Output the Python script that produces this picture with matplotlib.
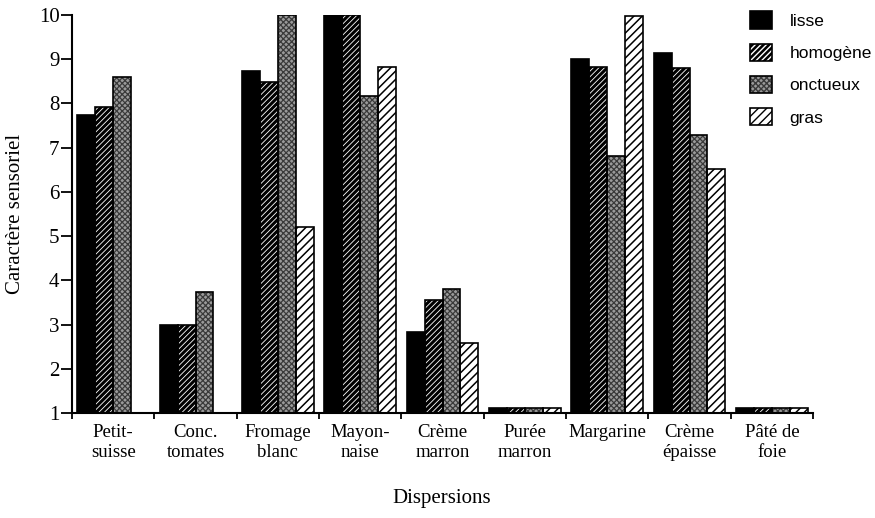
import numpy as np
import matplotlib
matplotlib.use("Agg")
import matplotlib.pyplot as plt
from matplotlib.patches import Patch
from matplotlib.legend_handler import HandlerTuple

categories = ["Petit-\nsuisse", "Conc.\ntomates", "Fromage\nblanc", "Mayon-\nnaise",
              "Crème\nmarron", "Purée\nmarron", "Margarine", "Crème\népaisse", "Pâté de\nfoie"]
series_names = ["lisse", "homogène", "onctueux", "gras"]
lisse    = [7.73, 2.99, 8.73, 10.0, 2.83, 1.12, 9.00, 9.15, 1.12]
homogene = [7.91, 2.99, 8.49, 10.0, 3.56, 1.12, 8.82, 8.80, 1.12]
onctueux = [8.60, 3.73, 10.0, 8.18, 3.80, 1.12, 6.82, 7.28, 1.12]
gras     = [1.00, 1.00, 5.21, 8.82, 2.59, 1.12, 9.98, 6.51, 1.12]
y_ticks = list(range(1, 11))

plt.rcParams.update({"font.family": "Liberation Serif"})

# face, hatch colour, hatch pattern, hatch linewidth per series
styles = [
    ("black", "black", None, 1.0),
    ("black", "white", "//////", 0.6),
    ("#9a9a9a", "#3a3a3a", "xxxxxx", 0.9),
    ("white", "black", "////", 1.1),
]

fig = plt.figure(figsize=(8.75, 5.18), dpi=100)
ax = fig.add_axes([0.0823, 0.2027, 0.8469, 0.7683])

x = np.arange(len(categories))
width = 0.218
start = 0.5 - 2 * width
handles = []
for i, (vals, (fc, hc, hatch, hlw)) in enumerate(zip([lisse, homogene, onctueux, gras], styles)):
    pos = x + start + i * width + width / 2
    with plt.rc_context({"hatch.linewidth": hlw}):
        ax.bar(pos, vals, width, facecolor=fc, edgecolor=hc, hatch=hatch, linewidth=0, zorder=2)
        face = Patch(facecolor=fc, edgecolor=hc, hatch=hatch, linewidth=0)
    ax.bar(pos, vals, width, fill=False, edgecolor="black", linewidth=1.2, zorder=3)
    handles.append((face, Patch(fill=False, edgecolor="black", linewidth=1.2)))

ax.set_xlim(0, len(categories))
ax.set_ylim(1, 10)
ax.set_yticks(y_ticks)
ax.tick_params(axis="y", labelsize=15, length=8, width=1.3, pad=1, direction="out")

ax.set_xticks(np.arange(len(categories) + 1))
ax.set_xticklabels([])
ax.tick_params(axis="x", which="major", length=4, width=1.3, direction="out")
ax.set_xticks(x + 0.5, minor=True)
ax.set_xticklabels(categories, minor=True, fontsize=13.5, linespacing=1.25)
ax.tick_params(axis="x", which="minor", length=0, pad=8)

for s in ["top", "right"]:
    ax.spines[s].set_visible(False)
for s in ["left", "bottom"]:
    ax.spines[s].set_linewidth(1.5)

ax.set_ylabel("Caractère sensoriel", fontsize=15, labelpad=10)
fig.text(0.505, 0.02, "Dispersions", ha="center", va="bottom", fontsize=15)

fig.legend(handles, series_names, loc="upper left", bbox_to_anchor=(0.839, 1.008),
           frameon=False, handler_map={tuple: HandlerTuple(ndivide=1)},
           prop={"family": "Liberation Sans", "size": 12.5},
           handlelength=1.3, handleheight=1.15, labelspacing=0.85, handletextpad=1.0)

fig.savefig("out.png", dpi=100)
